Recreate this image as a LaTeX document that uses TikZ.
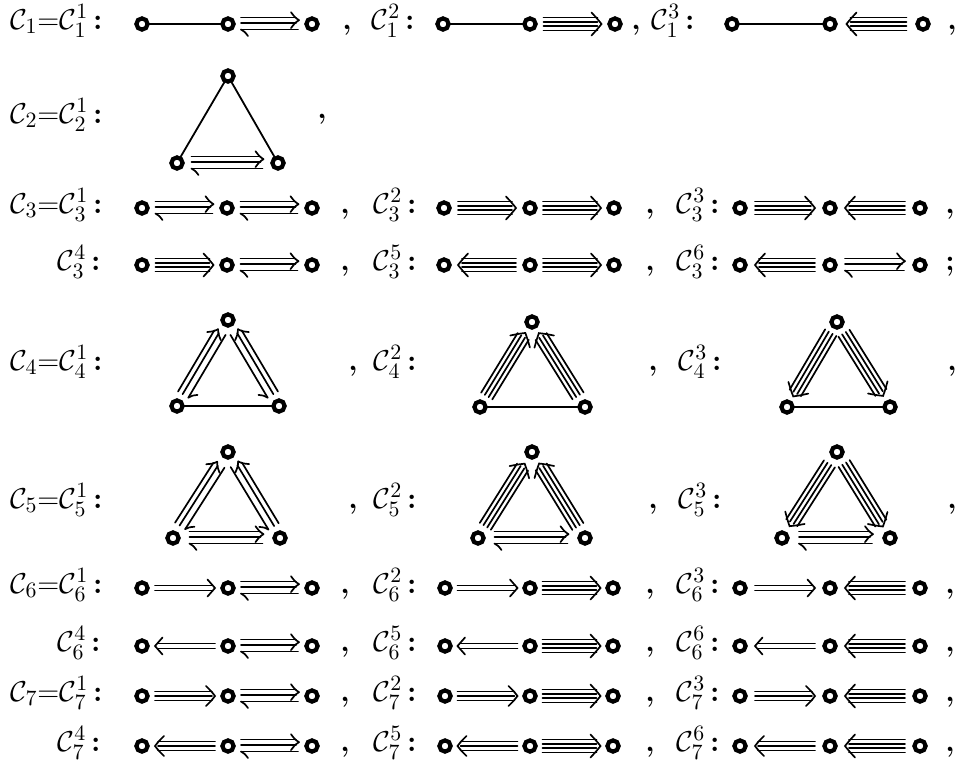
\documentclass[tikz,border=0pt]{standalone}
\usepackage{amsmath}
\newcommand\Cc[2]{\mathcal{C}^{#2}_{#1}}
\newcommand\chainthree[7]{%
  \node[vtx] (#1a) at (#2,-#5) {};
  \node[vtx] (#1b) at (#3,-#5) {};
  \node[vtx] (#1c) at (#4,-#5) {};
  \path (#1a) -- (#1b) pic[ep]{#6};
  \path (#1b) -- (#1c) pic[ep]{#7};
}
\newcommand\trithree[9]{%
  \node[vtx] (#1t) at (#2,-#3) {};
  \node[vtx] (#1l) at (#4,-#6) {};
  \node[vtx] (#1r) at (#5,-#6) {};
  \path (#1l) -- (#1t) pic[ep]{#7};
  \path (#1r) -- (#1t) pic[ep]{#8};
  \path (#1l) -- (#1r) pic[ep]{#9};
}
\tikzset{
 pics/ln/.style={code={\draw[pl] (-#1,0) -- (#1,0);}},
 pics/mix/.style n args={2}{code={\begin{scope}[yscale=#2]
   \draw[al] (-#1,6.5) -- (#1-3,6.5);
   \draw[al] (-#1,1.2) -- (#1-3,1.2);
   \draw[al] (#1-8,11.8) .. controls (#1-4,6.5) .. (#1,3.85);
   \draw[al] (#1-8,-4.1) .. controls (#1-4,1.2) .. (#1,3.85);
   \draw[al] (-#1,-5.5) -- (#1-1,-5.5);
   \draw[al] (-#1,-5.5) .. controls (-#1+3.5,-7.5) .. (-#1+7,-12);
 \end{scope}}},
 pics/quad/.style n args={2}{code={\begin{scope}[xscale=#2]
   \foreach \o in {-6.5,-2.2,2.2,6.5} \draw[al] (-#1,\o) -- (#1-4,\o);
   \draw[al] (#1-10,11.5) .. controls (#1-4,5) .. (#1,0) .. controls (#1-4,-5) .. (#1-10,-11.5);
 \end{scope}}},
 pics/trp/.style n args={2}{code={\begin{scope}[xscale=#2]
   \foreach \o in {-4.5,0,4.5} \draw[al] (-#1,\o) -- (#1-3,\o);
   \draw[al] (#1-9,10) .. controls (#1-3.5,4.5) .. (#1,0) .. controls (#1-3.5,-4.5) .. (#1-9,-10);
 \end{scope}}},
 pics/dbl/.style n args={2}{code={\begin{scope}[xscale=#2]
   \foreach \o in {-2.4,2.4} \draw[al] (-#1,\o) -- (#1-2.5,\o);
   \draw[al] (#1-7.5,8.5) .. controls (#1-3,4) .. (#1,0) .. controls (#1-3,-4) .. (#1-7.5,-8.5);
 \end{scope}}},
}
\begin{document}
\begin{tikzpicture}[x=0.5pt,y=0.5pt,
  vtx/.style={circle,draw,line width=2.1pt,minimum size=5.6pt,inner sep=0pt,fill=white},
  lab/.style={anchor=base east,inner sep=0pt,font=\fontsize{15}{18}\selectfont},
  pn/.style={anchor=base,inner sep=0pt,font=\fontsize{15}{18}\selectfont\bfseries},
  al/.style={line width=0.85pt,line cap=round},
  pl/.style={line width=0.9pt},
  ep/.style={pos=0.5,sloped,allow upside down},
]
\useasboundingbox (0,0) rectangle (963,-767);
% ---- row C1
\node[lab] (l11) at (103,-29) {$\mathcal{C}_1{=}\Cc11$\,\textbf{:}};
\chainthree{ra}{142}{228}{312}{24}{ln=37}{mix={29}{1}}
\node[pn] (k11) at (347,-29) {,};
\node[lab] (l12) at (415,-29) {$\Cc12$\,\textbf{:}};
\chainthree{rb}{443}{530}{615}{24}{ln=37}{quad={29}{1}}
\node[pn] (k12) at (636,-29) {,};
\node[lab] (l13) at (695,-29) {$\Cc13$\,\textbf{:}};
\chainthree{rc}{732}{830}{923}{24}{ln=43}{quad={30}{-1}}
\node[pn] (k13) at (952,-29) {,};
% ---- C2
\node[lab] (l21) at (103,-123) {$\mathcal{C}_2{=}\Cc21$\,\textbf{:}};
\trithree{ta}{228}{76}{177}{278}{163}{ln=45}{ln=45}{mix={36}{1}}
\node[pn] (k21) at (322,-118) {,};
% ---- C3
\node[lab] (l31) at (103,-213) {$\mathcal{C}_3{=}\Cc31$\,\textbf{:}};
\chainthree{rd}{142}{227}{312}{208}{mix={29}{1}}{mix={29}{1}}
\node[pn] (k31) at (345,-213) {,};
\node[lab] (l32) at (417,-213) {$\Cc32$\,\textbf{:}};
\chainthree{re}{444}{530}{614}{208}{quad={29}{1}}{quad={29}{1}}
\node[pn] (k32) at (650,-213) {,};
\node[lab] (l33) at (720,-213) {$\Cc33$\,\textbf{:}};
\chainthree{rf}{740}{830}{920}{208}{quad={30}{1}}{quad={30}{-1}}
\node[pn] (k33) at (950,-213) {,};
\node[lab] (l34) at (101,-270) {$\Cc34$\,\textbf{:}};
\chainthree{rg}{142}{227}{312}{265}{quad={29}{1}}{mix={29}{1}}
\node[pn] (k34) at (345,-270) {,};
\node[lab] (l35) at (417,-270) {$\Cc35$\,\textbf{:}};
\chainthree{rh}{444}{530}{614}{265}{quad={29}{-1}}{quad={29}{1}}
\node[pn] (k35) at (650,-270) {,};
\node[lab] (l36) at (720,-270) {$\Cc36$\,\textbf{:}};
\chainthree{ri}{740}{830}{920}{265}{quad={30}{-1}}{mix={30}{1}}
\node[pn] (k36) at (950,-270) {;};
% ---- C4
\node[lab] (l41) at (103,-370) {$\mathcal{C}_4{=}\Cc41$\,\textbf{:}};
\trithree{tb}{228}{320}{177}{279}{406}{mix={37}{1}}{mix={37}{-1}}{ln=44}
\node[pn] (k41) at (353,-370) {,};
\node[lab] (l42) at (417,-370) {$\Cc42$\,\textbf{:}};
\trithree{tc}{532}{322}{480}{585}{407}{quad={37}{1}}{quad={37}{1}}{ln=46}
\node[pn] (k42) at (653,-370) {,};
\node[lab] (l43) at (722,-370) {$\Cc43$\,\textbf{:}};
\trithree{td}{837}{322}{787}{890}{407}{quad={37}{-1}}{quad={37}{-1}}{ln=45}
\node[pn] (k43) at (952,-370) {,};
% ---- C5
\node[lab] (l51) at (103,-508) {$\mathcal{C}_5{=}\Cc51$\,\textbf{:}};
\trithree{te}{228}{452}{173}{280}{538}{mix={37}{1}}{mix={37}{-1}}{mix={37}{1}}
\node[pn] (k51) at (353,-508) {,};
\node[lab] (l52) at (417,-508) {$\Cc52$\,\textbf{:}};
\trithree{tf}{532}{452}{478}{585}{538}{quad={37}{1}}{quad={37}{1}}{mix={37}{1}}
\node[pn] (k52) at (653,-508) {,};
\node[lab] (l53) at (722,-508) {$\Cc53$\,\textbf{:}};
\trithree{tg}{837}{452}{782}{890}{538}{quad={37}{-1}}{quad={37}{-1}}{mix={37}{1}}
\node[pn] (k53) at (952,-508) {,};
% ---- C6
\node[lab] (l61) at (103,-593) {$\mathcal{C}_6{=}\Cc61$\,\textbf{:}};
\chainthree{rj}{142}{228}{312}{588}{dbl={30}{1}}{mix={29}{1}}
\node[pn] (k61) at (345,-593) {,};
\node[lab] (l62) at (417,-593) {$\Cc62$\,\textbf{:}};
\chainthree{rk}{445}{530}{613}{588}{dbl={30}{1}}{quad={29}{1}}
\node[pn] (k62) at (650,-593) {,};
\node[lab] (l63) at (720,-593) {$\Cc63$\,\textbf{:}};
\chainthree{rl}{740}{830}{920}{588}{dbl={30}{1}}{quad={30}{-1}}
\node[pn] (k63) at (950,-593) {,};
\node[lab] (l64) at (101,-651) {$\Cc64$\,\textbf{:}};
\chainthree{rm}{142}{228}{312}{646}{dbl={30}{-1}}{mix={29}{1}}
\node[pn] (k64) at (345,-651) {,};
\node[lab] (l65) at (417,-651) {$\Cc65$\,\textbf{:}};
\chainthree{rn}{445}{530}{613}{646}{dbl={30}{-1}}{quad={29}{1}}
\node[pn] (k65) at (650,-651) {,};
\node[lab] (l66) at (720,-651) {$\Cc66$\,\textbf{:}};
\chainthree{ro}{740}{830}{920}{646}{dbl={30}{-1}}{quad={30}{-1}}
\node[pn] (k66) at (950,-651) {,};
% ---- C7
\node[lab] (l71) at (103,-701) {$\mathcal{C}_7{=}\Cc71$\,\textbf{:}};
\chainthree{rp}{142}{228}{312}{696}{trp={30}{1}}{mix={29}{1}}
\node[pn] (k71) at (345,-701) {,};
\node[lab] (l72) at (417,-701) {$\Cc72$\,\textbf{:}};
\chainthree{rq}{445}{530}{613}{696}{trp={30}{1}}{quad={29}{1}}
\node[pn] (k72) at (650,-701) {,};
\node[lab] (l73) at (720,-701) {$\Cc73$\,\textbf{:}};
\chainthree{rr}{740}{830}{920}{696}{trp={30}{1}}{quad={30}{-1}}
\node[pn] (k73) at (950,-701) {,};
\node[lab] (l74) at (101,-751) {$\Cc74$\,\textbf{:}};
\chainthree{rs}{142}{228}{312}{746}{trp={30}{-1}}{mix={29}{1}}
\node[pn] (k74) at (345,-751) {,};
\node[lab] (l75) at (417,-751) {$\Cc75$\,\textbf{:}};
\chainthree{rt}{445}{530}{613}{746}{trp={30}{-1}}{quad={29}{1}}
\node[pn] (k75) at (650,-751) {,};
\node[lab] (l76) at (720,-751) {$\Cc76$\,\textbf{:}};
\chainthree{ru}{740}{830}{920}{746}{trp={30}{-1}}{quad={30}{-1}}
\node[pn] (k76) at (950,-751) {,};
\end{tikzpicture}
\end{document}
